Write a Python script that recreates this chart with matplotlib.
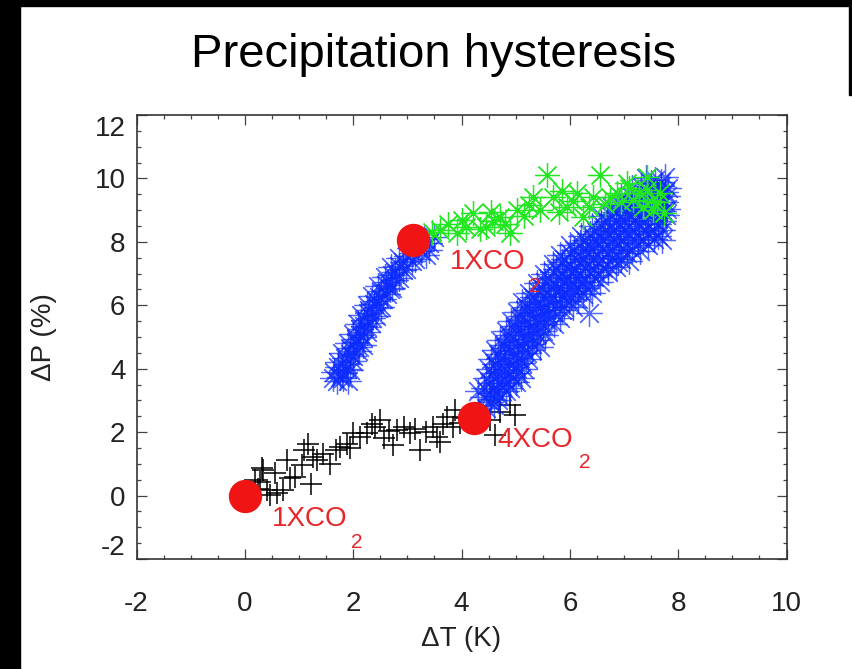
import matplotlib
matplotlib.use("Agg")
import matplotlib.pyplot as plt
import numpy as np
from matplotlib.ticker import MultipleLocator, FixedLocator, FixedFormatter
from matplotlib.patches import Rectangle

# Donnees (Delta T en K, Delta P en %)
black_dt = [0.25, 0.31, 0.40, 0.46, 0.59, 0.71, 0.83, 0.93, 0.77, 0.55,
            0.34, 0.28, 0.19, 1.05, 1.17, 1.26, 1.33, 1.23, 1.45, 1.57,
            1.68, 1.76, 1.88, 2.00, 2.13, 2.25, 2.40, 2.50, 2.56, 2.66,
            2.74, 2.80, 2.93, 3.05, 3.15, 3.23, 3.35, 3.48, 3.54, 3.66,
            3.73, 3.85, 3.88, 3.98, 4.10, 4.34, 4.53, 4.62, 4.71, 4.89,
            4.99, 1.10, 1.95, 2.35, 3.60]
black_dp = [0.20, 0.86, 0.17, 0.01, 0.07, 0.17, 0.54, 0.59, 1.12, 0.70,
            0.80, 0.42, 0.49, 0.95, 1.64, 1.22, 1.12, 0.38, 1.30, 1.01,
            1.45, 1.54, 1.64, 1.96, 1.85, 1.96, 2.17, 2.38, 1.80, 2.05,
            1.59, 2.06, 2.17, 1.96, 2.10, 1.43, 2.00, 2.17, 1.85, 2.27,
            2.48, 2.17, 2.69, 2.30, 2.45, 2.38, 2.38, 1.91, 2.63, 2.85,
            2.54, 1.45, 1.50, 2.25, 1.70]

green_dt = [3.45, 3.60, 3.75, 3.91, 4.09, 4.21, 4.35, 4.46, 4.60, 4.71,
            4.80, 4.89, 5.02, 5.15, 5.32, 5.45, 5.57, 5.69, 5.80, 5.94,
            6.05, 6.13, 6.25, 6.35, 6.43, 6.56, 6.65, 6.75, 6.87, 6.95,
            7.05, 7.17, 7.28, 7.35, 7.42, 7.50, 7.54, 7.66, 7.73, 7.42,
            4.00, 4.55, 5.25, 5.85, 7.10, 7.60]
green_dp = [8.30, 8.37, 8.55, 8.28, 8.47, 8.91, 8.40, 8.47, 8.65, 8.78,
            8.55, 8.28, 9.00, 8.80, 9.41, 9.00, 10.10, 9.41, 8.95, 9.10,
            9.30, 9.54, 8.78, 9.10, 9.41, 10.10, 9.20, 9.40, 9.54, 9.25,
            9.85, 9.32, 9.55, 9.10, 9.63, 9.30, 9.00, 9.54, 8.91, 10.04,
            8.70, 8.95, 9.15, 9.60, 9.70, 9.25]

# branche bleue de gauche (retour vers 1XCO2)
blue_left = [(1.70, 3.60), (1.82, 3.70), (1.65, 3.90), (1.80, 3.85), (1.95, 3.95),
             (1.72, 4.20), (1.88, 4.15), (2.00, 4.25), (1.80, 4.50), (1.95, 4.45),
             (2.08, 4.55), (1.90, 4.80), (2.05, 4.85), (2.18, 4.75), (2.00, 5.10),
             (2.12, 5.05), (2.25, 5.15), (2.08, 5.40), (2.20, 5.35), (2.32, 5.45),
             (2.15, 5.70), (2.28, 5.75), (2.42, 5.65), (2.25, 6.00), (2.38, 6.05),
             (2.52, 5.95), (2.35, 6.30), (2.48, 6.25), (2.62, 6.35), (2.45, 6.60),
             (2.60, 6.65), (2.72, 6.55), (2.58, 6.90), (2.72, 6.95), (2.85, 6.85),
             (2.70, 7.20), (2.85, 7.25), (2.98, 7.15), (2.85, 7.50), (3.00, 7.55),
             (3.15, 7.45), (3.35, 7.60), (3.05, 7.80), (3.20, 7.85), (3.40, 7.75),
             (3.30, 8.10), (3.50, 8.15),
             (1.75, 3.75), (1.72, 4.05), (1.88, 4.00), (1.85, 4.35), (2.00, 4.40),
             (1.95, 4.65), (2.10, 4.70), (2.05, 4.95), (2.18, 5.00), (2.12, 5.25),
             (2.25, 5.30), (2.20, 5.55), (2.35, 5.60), (2.30, 5.85), (2.45, 5.90),
             (2.42, 6.15), (2.55, 6.20), (2.52, 6.45), (2.68, 6.50), (2.65, 6.75),
             (2.78, 6.80), (2.78, 7.05), (2.92, 7.10), (2.92, 7.35), (3.08, 7.40),
             (3.10, 7.65), (3.25, 7.70), (3.40, 7.95), (1.62, 3.70), (1.90, 3.60)]

# branche bleue de droite (montee depuis 4XCO2)
blue_right = [(4.45, 2.75), (4.60, 2.85),
              (4.40, 3.10), (4.55, 3.05), (4.70, 3.15), (4.30, 3.30),
              (4.42, 3.40), (4.58, 3.35), (4.75, 3.45), (4.90, 3.40),
              (4.45, 3.70), (4.60, 3.75), (4.78, 3.65), (4.95, 3.75), (5.10, 3.70),
              (4.50, 4.00), (4.65, 4.05), (4.82, 3.95), (5.00, 4.05), (5.15, 4.00),
              (4.55, 4.30), (4.72, 4.35), (4.88, 4.25), (5.05, 4.35), (5.22, 4.30),
              (4.62, 4.60), (4.80, 4.65), (4.95, 4.55), (5.12, 4.65), (5.30, 4.60),
              (4.72, 4.90), (4.88, 4.95), (5.05, 4.85), (5.22, 4.95), (5.38, 4.90),
              (4.82, 5.20), (4.98, 5.25), (5.15, 5.15), (5.32, 5.25), (5.50, 5.20),
              (4.92, 5.50), (5.08, 5.55), (5.25, 5.45), (5.42, 5.55), (5.60, 5.50),
              (5.02, 5.80), (5.18, 5.85), (5.35, 5.75), (5.52, 5.85), (5.68, 5.80),
              (5.85, 5.85), (6.35, 5.75),
              (5.12, 6.10), (5.30, 6.15), (5.45, 6.05), (5.62, 6.15), (5.80, 6.10),
              (5.98, 6.15),
              (5.25, 6.40), (5.42, 6.45), (5.58, 6.35), (5.75, 6.45), (5.92, 6.40),
              (6.10, 6.45), (6.25, 6.35),
              (5.40, 6.70), (5.55, 6.75), (5.72, 6.65), (5.90, 6.75), (6.05, 6.70),
              (6.22, 6.75), (6.38, 6.65),
              (5.52, 7.00), (5.68, 7.05), (5.85, 6.95), (6.02, 7.05), (6.18, 7.00),
              (6.35, 7.05), (6.52, 6.95),
              (5.68, 7.30), (5.85, 7.35), (6.00, 7.25), (6.18, 7.35), (6.35, 7.30),
              (6.52, 7.35), (6.70, 7.25), (6.88, 7.35),
              (5.82, 7.60), (6.00, 7.65), (6.15, 7.55), (6.32, 7.65), (6.50, 7.60),
              (6.68, 7.65), (6.85, 7.55), (7.05, 7.65),
              (6.00, 7.90), (6.18, 7.95), (6.35, 7.85), (6.52, 7.95), (6.70, 7.90),
              (6.88, 7.95), (7.05, 7.85), (7.25, 7.95),
              (6.20, 8.20), (6.38, 8.25), (6.55, 8.15), (6.72, 8.25), (6.90, 8.20),
              (7.08, 8.25), (7.25, 8.15), (7.45, 8.25), (7.62, 8.20),
              (6.40, 8.50), (6.58, 8.55), (6.75, 8.45), (6.92, 8.55), (7.10, 8.50),
              (7.28, 8.55), (7.45, 8.45), (7.62, 8.55),
              (6.58, 8.80), (6.75, 8.85), (6.92, 8.75), (7.10, 8.85), (7.28, 8.80),
              (7.45, 8.85), (7.62, 8.75), (7.78, 8.85),
              (6.78, 9.10), (6.95, 9.15), (7.12, 9.05), (7.30, 9.15), (7.48, 9.10),
              (7.65, 9.15), (7.80, 9.05),
              (6.95, 9.40), (7.12, 9.45), (7.30, 9.35), (7.48, 9.45), (7.65, 9.40),
              (7.80, 9.45),
              (7.15, 9.70), (7.32, 9.75), (7.50, 9.65), (7.68, 9.75), (7.82, 9.70),
              (7.40, 10.00), (7.58, 9.95), (7.75, 10.05),
              (4.52, 2.95), (4.68, 3.00), (4.50, 3.25), (4.66, 3.28), (4.82, 3.30),
              (4.52, 3.55), (4.68, 3.55), (4.85, 3.55), (5.00, 3.58), (4.58, 3.85),
              (4.72, 3.88), (4.88, 3.85), (5.05, 3.88), (4.62, 4.15), (4.78, 4.18),
              (4.95, 4.15), (5.12, 4.18), (4.68, 4.45), (4.85, 4.48), (5.02, 4.45),
              (5.20, 4.48), (4.78, 4.75), (4.95, 4.78), (5.12, 4.75), (5.30, 4.78),
              (4.88, 5.05), (5.05, 5.08), (5.22, 5.05), (5.40, 5.08), (4.98, 5.35),
              (5.15, 5.38), (5.32, 5.35), (5.50, 5.38), (5.10, 5.65), (5.26, 5.68),
              (5.44, 5.65), (5.60, 5.68), (5.20, 5.95), (5.38, 5.98), (5.55, 5.95),
              (5.72, 5.98), (5.90, 5.95), (5.32, 6.25), (5.50, 6.28), (5.68, 6.25),
              (5.85, 6.28), (6.02, 6.25), (5.48, 6.55), (5.65, 6.58), (5.82, 6.55),
              (6.00, 6.58), (6.15, 6.55), (6.30, 6.55), (5.60, 6.85), (5.78, 6.88),
              (5.95, 6.85), (6.12, 6.88), (6.28, 6.85), (6.45, 6.88), (5.75, 7.15),
              (5.92, 7.18), (6.10, 7.15), (6.28, 7.18), (6.45, 7.15), (6.62, 7.18),
              (5.90, 7.45), (6.08, 7.48), (6.25, 7.45), (6.42, 7.48), (6.60, 7.45),
              (6.78, 7.48), (6.95, 7.45), (6.08, 7.75), (6.25, 7.78), (6.42, 7.75),
              (6.60, 7.78), (6.78, 7.75), (6.95, 7.78), (7.15, 7.75), (6.28, 8.05),
              (6.45, 8.08), (6.62, 8.05), (6.80, 8.08), (6.98, 8.05), (7.15, 8.08),
              (7.35, 8.05), (7.55, 8.08), (6.48, 8.35), (6.65, 8.38), (6.82, 8.35),
              (7.00, 8.38), (7.18, 8.35), (7.35, 8.38), (7.55, 8.35), (7.70, 8.38),
              (6.68, 8.65), (6.85, 8.68), (7.02, 8.65), (7.20, 8.68), (7.38, 8.65),
              (7.55, 8.68), (7.72, 8.65), (6.85, 8.95), (7.02, 8.98), (7.20, 8.95),
              (7.38, 8.98), (7.55, 8.95), (7.72, 8.98), (7.05, 9.25), (7.22, 9.28),
              (7.40, 9.25), (7.58, 9.28), (7.75, 9.25), (7.25, 9.55), (7.42, 9.58),
              (7.60, 9.55), (7.75, 9.58), (7.50, 9.85), (7.68, 9.88),
              (5.45, 4.70), (5.55, 5.05), (5.70, 5.40), (5.82, 5.60), (6.05, 5.95),
              (6.15, 6.20), (6.40, 6.40), (6.55, 6.75), (6.70, 7.05), (6.85, 7.20),
              (7.10, 7.40), (7.30, 7.70), (7.45, 7.90), (7.70, 8.05)]

# points d'equilibre CO2
co2_dt = [0.0, 3.10, 4.23]
co2_dp = [0.0, 8.06, 2.44]
co2_names = ["1XCO", "1XCO", "4XCO"]
# decalages des etiquettes (pixels) : texte puis indice "2"
name_offsets = [(27, -23), (37, -22), (23, -22)]
sub_offsets = [(112, -47), (122, -47), (111, -44)]

yticks = [-2, 0, 2, 4, 6, 8, 10, 12]
xticks = [-2, 0, 2, 4, 6, 8, 10]

plt.rcParams["font.family"] = ["Liberation Sans", "DejaVu Sans"]

fig = plt.figure(figsize=(8.52, 6.69), dpi=100)
fig.patch.set_facecolor("white")

# cadre noir de la diapositive
fig.add_artist(Rectangle((0, 1 - 6 / 669), 1, 6 / 669, transform=fig.transFigure,
                         color="black", zorder=0))
fig.add_artist(Rectangle((0, 0), 19.5 / 852, 1, transform=fig.transFigure,
                         color="black", zorder=0))
fig.add_artist(Rectangle((849 / 852, 1 - 95 / 669), 3 / 852, 95 / 669,
                         transform=fig.transFigure, color="black", zorder=0))

fig.text(0.509, 1 - 55 / 669, "Precipitation hysteresis", fontsize=34,
         ha="center", va="center")

ax = fig.add_axes([136.5 / 852, 1 - 559 / 669, 650 / 852, 444 / 669])

asterisk = (8, 2, 0)
ax.plot(black_dt, black_dp, ls="none", marker="+", ms=16, mew=1.1,
        color="black", zorder=2)
bl = np.array(blue_left)
br = np.array(blue_right)
for arr in (bl, br):
    ax.plot(arr[:, 0], arr[:, 1], ls="none", marker=asterisk, ms=19, mew=0.9,
            color="#0a2aff", alpha=0.7, zorder=3)
ax.plot(green_dt, green_dp, ls="none", marker=asterisk, ms=18, mew=0.9,
        color="#22e622", zorder=4)

ax.plot(co2_dt, co2_dp, ls="none", marker="o", ms=24, color="#f01414",
        mec="none", zorder=5)
for x, y, name, no, so in zip(co2_dt, co2_dp, co2_names, name_offsets, sub_offsets):
    ax.annotate(name, (x, y), xytext=no, textcoords="offset pixels",
                color="#e8262a", fontsize=20, ha="left", va="center", zorder=6)
    ax.annotate("2", (x, y), xytext=so, textcoords="offset pixels",
                color="#e8262a", fontsize=15, ha="center", va="center", zorder=6)

ax.set_xlim(-2, 10)
ax.set_ylim(-2, 12)
ax.xaxis.set_major_locator(FixedLocator(xticks))
ax.xaxis.set_minor_locator(MultipleLocator(0.5))
ax.yaxis.set_major_locator(FixedLocator(yticks))
ax.yaxis.set_minor_locator(MultipleLocator(0.5))
ax.xaxis.set_major_formatter(FixedFormatter([str(v) for v in xticks]))
# 12 et -2 sont decales sur l'original : on les place a part
ax.yaxis.set_major_formatter(FixedFormatter(["" if v in (-2, 12) else str(v) for v in yticks]))
ax.annotate("12", (0, 12), xycoords=("axes fraction", "data"), xytext=(-11, -14.5),
            textcoords="offset pixels", ha="right", va="center", fontsize=20,
            color="#222222")
ax.annotate("-2", (0, -2), xycoords=("axes fraction", "data"), xytext=(-11, 11),
            textcoords="offset pixels", ha="right", va="center", fontsize=20,
            color="#222222")

ax.tick_params(which="both", direction="in", top=True, right=True,
               color="#444444", width=0.9, labelsize=20, labelcolor="#222222")
ax.tick_params(which="major", length=7)
ax.tick_params(which="minor", length=3.2)
ax.tick_params(axis="x", pad=23)
ax.tick_params(axis="y", pad=8)
for sp in ax.spines.values():
    sp.set_linewidth(1.2)
    sp.set_color("#333333")

ax.set_xlabel("\u0394T (K)", fontsize=20, color="#222222")
ax.set_ylabel("\u0394P (%)", fontsize=20, color="#222222")
ax.xaxis.set_label_coords(0.5, -0.152)
ax.yaxis.set_label_coords(-0.122, 0.5)

fig.savefig("out.png", dpi=100)
plt.close(fig)
